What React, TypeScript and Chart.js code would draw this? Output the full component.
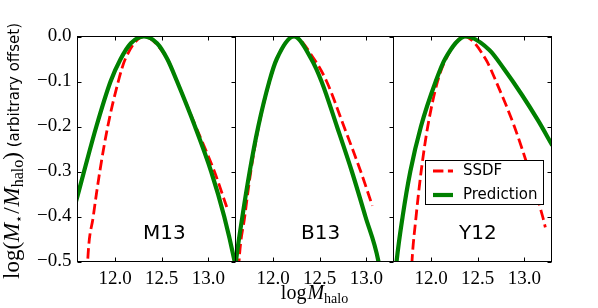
import React, { useEffect, useRef } from 'react';
import { Chart, registerables } from 'chart.js';

Chart.register(...registerables);

// ---- data ----
const PANEL_NAMES = ['M13', 'B13', 'Y12'];
const SERIES_NAMES = ['SSDF', 'Prediction'];
const X_MIN = 11.598;
const X_MAX = 13.291;
const Y_MIN = -0.5;
const Y_MAX = 0.0;
const X_TICKS = [12.0, 12.5, 13.0];
const Y_TICKS = [0.0, -0.1, -0.2, -0.3, -0.4, -0.5];
const LABEL_X = 12.3;
const LABEL_Y = -0.45;

const M13_PRED_X = [11.575, 11.6, 11.668, 11.8, 11.952, 12.06, 12.17, 12.31, 12.45, 12.56, 12.665, 12.857, 13.03, 13.17, 13.282, 13.305];
const M13_PRED_Y = [-0.372, -0.353, -0.3, -0.2, -0.1, -0.05, -0.015, 0, -0.015, -0.05, -0.1, -0.2, -0.3, -0.4, -0.5, -0.525];
const M13_SSDF_X = [11.697, 11.707, 11.767, 11.837, 11.922, 12.035, 12.11, 12.31, 12.56, 12.665, 12.865, 13.065, 13.197];
const M13_SSDF_Y = [-0.56, -0.5, -0.4, -0.3, -0.2, -0.1, -0.05, 0, -0.05, -0.1, -0.2, -0.3, -0.379];

const B13_PRED_X = [11.589, 11.603, 11.672, 11.75, 11.842, 11.96, 12.04, 12.225, 12.41, 12.52, 12.685, 12.845, 12.99, 13.13, 13.15];
const B13_PRED_Y = [-0.53, -0.5, -0.4, -0.3, -0.2, -0.1, -0.05, 0, -0.05, -0.1, -0.2, -0.3, -0.4, -0.5, -0.528];
const B13_SSDF_X = [11.625, 11.636, 11.697, 11.762, 11.846, 11.962, 12.04, 12.225, 12.44, 12.575, 12.76, 12.94, 13.064];
const B13_SSDF_Y = [-0.55, -0.5, -0.4, -0.3, -0.2, -0.1, -0.05, 0, -0.05, -0.1, -0.2, -0.3, -0.376];

const Y12_PRED_X = [11.618, 11.631, 11.696, 11.778, 11.892, 12.05, 12.15, 12.375, 12.625, 12.775, 12.975, 13.145, 13.3];
const Y12_PRED_Y = [-0.53, -0.5, -0.4, -0.3, -0.2, -0.1, -0.05, 0, -0.03, -0.07, -0.13, -0.186, -0.242];
const Y12_SSDF_X = [11.787, 11.796, 11.84, 11.894, 11.965, 12.07, 12.16, 12.357, 12.585, 12.697, 12.893, 13.054, 13.196, 13.225];
const Y12_SSDF_Y = [-0.54, -0.5, -0.4, -0.3, -0.2, -0.1, -0.05, 0, -0.05, -0.1, -0.2, -0.3, -0.4, -0.424];

const PRED_X = [M13_PRED_X, B13_PRED_X, Y12_PRED_X];
const PRED_Y = [M13_PRED_Y, B13_PRED_Y, Y12_PRED_Y];
const SSDF_X = [M13_SSDF_X, B13_SSDF_X, Y12_SSDF_X];
const SSDF_Y = [M13_SSDF_Y, B13_SSDF_Y, Y12_SSDF_Y];

// ---- styling / layout ----
const W = 598;
const H = 308;
const PANEL_LEFT = [77.5, 235.5, 393.5];
const PANEL_W = 158;
const PLOT_TOP = 36.5;
const PLOT_BOTTOM = 261.5;
const TICK_LEN = 4;
const RED = '#ff0000';
const GREEN = '#008000';
const SERIF = '"Liberation Serif", "DejaVu Serif", serif';
const SANS = '"DejaVu Sans", sans-serif';

const zip = (xs: number[], ys: number[]) => xs.map((x, k) => ({ x, y: ys[k] }));
const fmt = (v: number) => (v < -1e-9 ? '\u2212' : '') + Math.abs(v).toFixed(1);

function drawParts(ctx: CanvasRenderingContext2D, parts: { t: string; f: string; dy: number; gap?: number }[], cx: number, baseY: number) {
  let total = 0;
  for (const p of parts) {
    ctx.font = p.f;
    total += ctx.measureText(p.t).width + (p.gap || 0);
  }
  let x = cx - total / 2;
  for (const p of parts) {
    ctx.font = p.f;
    ctx.fillText(p.t, x, baseY + p.dy);
    x += ctx.measureText(p.t).width + (p.gap || 0);
  }
}

function decorPlugin(i: number) {
  return {
    id: 'decor' + i,
    afterDatasetsDraw(chart: any) {
      const { ctx, chartArea: a, scales } = chart;
      const xs = scales.x;
      const ys = scales.y;
      ctx.save();
      ctx.fillStyle = '#000';
      ctx.strokeStyle = '#000';
      ctx.lineWidth = 1;
      ctx.setLineDash([]);

      // panel name
      ctx.font = '20px ' + SANS;
      ctx.textAlign = 'left';
      ctx.textBaseline = 'alphabetic';
      ctx.fillText(PANEL_NAMES[i], xs.getPixelForValue(LABEL_X), ys.getPixelForValue(LABEL_Y));

      // frame
      ctx.strokeRect(a.left, a.top, a.right - a.left, a.bottom - a.top);

      // inward ticks
      ctx.beginPath();
      for (const v of X_TICKS) {
        const px = Math.round(xs.getPixelForValue(v)) + 0.5;
        ctx.moveTo(px, a.top);
        ctx.lineTo(px, a.top + TICK_LEN);
        ctx.moveTo(px, a.bottom);
        ctx.lineTo(px, a.bottom - TICK_LEN);
      }
      for (const v of Y_TICKS) {
        const py = Math.round(ys.getPixelForValue(v)) + 0.5;
        if (i === 0) {
          ctx.moveTo(a.left, py);
          ctx.lineTo(a.left + TICK_LEN, py);
        }
        ctx.moveTo(a.right, py);
        ctx.lineTo(a.right - TICK_LEN, py);
      }
      ctx.stroke();

      if (i === 2) {
        // legend
        const lx = 425.5, ly = 160.5, lw = 118, lh = 44;
        ctx.fillStyle = '#fff';
        ctx.fillRect(lx, ly, lw, lh);
        ctx.strokeStyle = '#000';
        ctx.lineWidth = 1;
        ctx.strokeRect(lx, ly, lw, lh);
        ctx.lineWidth = 2.8;
        ctx.strokeStyle = RED;
        ctx.setLineDash([10.4, 4.5]);
        ctx.beginPath();
        ctx.moveTo(433, 171);
        ctx.lineTo(453, 171);
        ctx.stroke();
        ctx.setLineDash([]);
        ctx.lineWidth = 4.2;
        ctx.strokeStyle = GREEN;
        ctx.beginPath();
        ctx.moveTo(433, 195);
        ctx.lineTo(453, 195);
        ctx.stroke();
        ctx.fillStyle = '#000';
        ctx.font = '15px ' + SANS;
        ctx.textBaseline = 'middle';
        ctx.fillText(SERIES_NAMES[0], 463, 171);
        ctx.fillText(SERIES_NAMES[1], 463, 195);
      }

      if (i === 0) {
        // y axis title (rotated)
        ctx.fillStyle = '#000';
        ctx.textAlign = 'left';
        ctx.textBaseline = 'alphabetic';
        ctx.translate(19, 151);
        ctx.rotate(-Math.PI / 2);
        drawParts(ctx, [
          { t: 'log(', f: '23px ' + SERIF, dy: 0 },
          { t: 'M', f: 'italic 23px ' + SERIF, dy: 0 },
          { t: '\u22C6', f: '13px "DejaVu Serif", serif', dy: 4, gap: 1 },
          { t: '/', f: '23px ' + SERIF, dy: 0, gap: 1 },
          { t: 'M', f: 'italic 23px ' + SERIF, dy: 0 },
          { t: 'halo', f: '16px ' + SERIF, dy: 4 },
          { t: ')', f: '23px ' + SERIF, dy: 0 },
          { t: ' (arbitrary offset)', f: '15px ' + SANS, dy: 0 },
        ], 0, 0);
      }

      if (i === 1) {
        ctx.fillStyle = '#000';
        ctx.textAlign = 'left';
        ctx.textBaseline = 'alphabetic';
        drawParts(ctx, [
          { t: 'log', f: '20px ' + SERIF, dy: 0, gap: 1 },
          { t: 'M', f: 'italic 20px ' + SERIF, dy: 0 },
          { t: 'halo', f: '14px ' + SERIF, dy: 4 },
        ], (a.left + a.right) / 2, 299);
      }
      ctx.restore();
    },
  };
}

function makeConfig(i: number): any {
  const left = PANEL_LEFT[i];
  const right = left + PANEL_W;
  return {
    type: 'line',
    data: {
      datasets: [
        {
          label: SERIES_NAMES[1],
          data: zip(PRED_X[i], PRED_Y[i]),
          borderColor: GREEN,
          borderWidth: 4.2,
          pointRadius: 0,
          fill: false,
          cubicInterpolationMode: 'monotone',
        },
        {
          label: SERIES_NAMES[0],
          data: zip(SSDF_X[i], SSDF_Y[i]),
          borderColor: RED,
          borderWidth: 2.8,
          borderDash: [10.4, 4.5],
          pointRadius: 0,
          fill: false,
          cubicInterpolationMode: 'monotone',
        },
      ],
    },
    options: {
      animation: false,
      responsive: false,
      devicePixelRatio: 1,
      events: [],
      layout: {
        padding: { left: i === 0 ? 0 : left, right: W - right, top: PLOT_TOP, bottom: 0 },
      },
      plugins: { legend: { display: false }, tooltip: { enabled: false } },
      scales: {
        x: {
          type: 'linear',
          min: X_MIN,
          max: X_MAX,
          afterBuildTicks: (s: any) => {
            s.ticks = X_TICKS.map((v) => ({ value: v }));
          },
          afterFit: (s: any) => {
            s.height = H - PLOT_BOTTOM;
          },
          grid: { display: false, drawTicks: false },
          border: { display: false },
          ticks: {
            color: '#000',
            font: { family: SERIF, size: 19 },
            padding: 6,
            maxRotation: 0,
            autoSkip: false,
            callback: (v: any) => Number(v).toFixed(1),
          },
        },
        y: {
          type: 'linear',
          min: Y_MIN,
          max: Y_MAX,
          display: i === 0,
          afterBuildTicks: (s: any) => {
            s.ticks = Y_TICKS.map((v) => ({ value: v }));
          },
          afterFit: (s: any) => {
            if (i === 0) s.width = PANEL_LEFT[0];
          },
          grid: { display: false, drawTicks: false },
          border: { display: false },
          ticks: {
            color: '#000',
            font: { family: SERIF, size: 19 },
            padding: 6,
            autoSkip: false,
            callback: (v: any) => fmt(Number(v)),
          },
        },
      },
    },
    plugins: [decorPlugin(i)],
  };
}

export default function App() {
  const r0 = useRef<HTMLCanvasElement>(null);
  const r1 = useRef<HTMLCanvasElement>(null);
  const r2 = useRef<HTMLCanvasElement>(null);
  const refs = [r0, r1, r2];

  useEffect(() => {
    document.body.style.margin = '0';
    const charts = refs.map((r, i) => new Chart(r.current as HTMLCanvasElement, makeConfig(i)));
    return () => charts.forEach((c) => c.destroy());
  }, []);

  return (
    <div style={{ position: 'relative', width: W, height: H, background: '#fff', overflow: 'hidden' }}>
      {refs.map((r, i) => (
        <canvas key={i} ref={r} width={W} height={H} style={{ position: 'absolute', left: 0, top: 0 }} />
      ))}
    </div>
  );
}
